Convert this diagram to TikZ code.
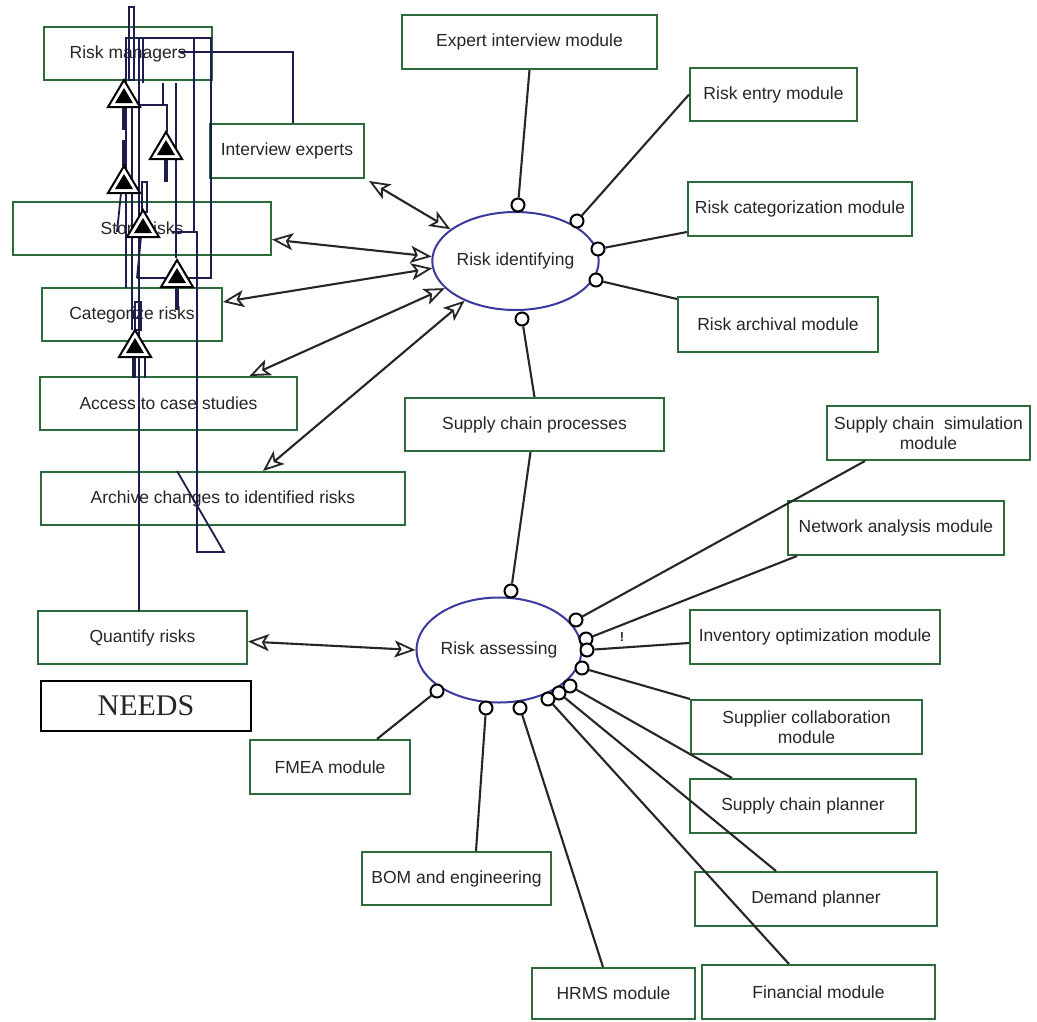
\documentclass[tikz,border=0pt]{standalone}
\usepackage{fontspec}
\setmainfont{Liberation Sans}
\newfontfamily\needsface{Liberation Serif}
\usetikzlibrary{shapes.geometric,arrows.meta}

\definecolor{boxgreen}{HTML}{2E6B3C}
\definecolor{ovalblue}{HTML}{3A3A9E}
\definecolor{inkgray}{HTML}{262626}
\definecolor{wirenavy}{HTML}{1E1E4E}

\tikzset{
  warnsign/.pic={
    \draw[line width=2pt, fill=white] (0,0) -- (16,27) -- (-16,27) -- cycle;
    \fill[black] (0,8) -- (9,23) -- (-9,23) -- cycle;
  }
}

\begin{document}
\begin{tikzpicture}[x=1pt,y=-1pt,
  box/.style={draw=boxgreen, line width=2pt, fill=white, text=inkgray,
    font=\fontsize{17.5}{20}\selectfont, inner sep=0pt, align=center},
  oval/.style={ellipse, draw=ovalblue, line width=2pt, fill=white, text=inkgray,
    font=\fontsize{17.5}{20}\selectfont, inner sep=0pt},
  port/.style={circle, draw=black, line width=2pt, fill=white,
    minimum size=13pt, inner sep=0pt},
  link/.style={line width=2.1pt, draw=inkgray},
  opentip/.tip={Stealth[open,length=21pt,width=17pt,inset=5pt,line width=1.8pt]},
  dual/.style={link, opentip-opentip},
  wire/.style={line width=1.8pt, draw=wirenavy},
  heavywire/.style={line width=3.4pt, draw=wirenavy},
]
\useasboundingbox (0,0) rectangle (1037,1021);
\fill[white] (0,0) rectangle (1037,1021);

% ---------- left column: needs ----------
\node[box, minimum width=168pt, minimum height=53pt] (rmg) at (128,53.5) {Risk managers};
\node[box, minimum width=154pt, minimum height=54pt] (iex) at (287,151) {Interview experts};
\node[box, minimum width=258pt, minimum height=53pt] (str) at (142,228.5) {Store risks};
\node[box, minimum width=180pt, minimum height=53pt] (cat) at (132,314.5) {Categorize risks};
\node[box, minimum width=257pt, minimum height=53pt] (acs) at (168.5,403.5) {Access to case studies};
\node[box, minimum width=364pt, minimum height=53pt] (arc) at (223,498.5) {Archive changes to identified risks};
\node[box, minimum width=209pt, minimum height=53pt] (qnt) at (142.5,637.5) {Quantify risks};
\node[draw=black, line width=1.6pt, minimum width=210pt, minimum height=50pt, inner sep=0pt,
  text=inkgray, font=\needsface\fontsize{30}{32}\selectfont] (nds) at (146,706) {NEEDS};

% ---------- processes ----------
\node[oval, minimum width=155pt, minimum height=98pt] (rid) at (515.5,261) {Risk identifying};
\node[oval, minimum width=158pt, minimum height=105pt] (ras) at (499,650) {Risk assessing};
\node[box, minimum width=259pt, minimum height=53pt] (scp) at (534.5,424.5) {Supply chain processes};

% ---------- modules around risk identifying ----------
\node[box, minimum width=255pt, minimum height=54pt] (eim) at (529.5,42) {Expert interview module};
\node[box, minimum width=167pt, minimum height=53pt] (rem) at (773.5,94.5) {Risk entry module};
\node[box, minimum width=224pt, minimum height=54pt] (rcm) at (800,209) {Risk categorization module};
\node[box, minimum width=200pt, minimum height=55pt] (ram) at (778,324.5) {Risk archival module};

% ---------- modules around risk assessing ----------
\node[box, minimum width=203pt, minimum height=54pt] (ssm) at (928.5,433) {Supply chain\ \ simulation\\module};
\node[box, minimum width=216pt, minimum height=54pt] (nam) at (896,528) {Network analysis module};
\node[box, minimum width=250pt, minimum height=54pt] (iom) at (815,637) {Inventory optimization module};
\node[box, minimum width=231pt, minimum height=54pt] (scm) at (806.5,727) {Supplier collaboration\\module};
\node[box, minimum width=226pt, minimum height=54pt] (spl) at (803,806) {Supply chain planner};
\node[box, minimum width=242pt, minimum height=54pt] (dpl) at (816,899) {Demand planner};
\node[box, minimum width=233pt, minimum height=54pt] (fin) at (818.5,992) {Financial module};
\node[box, minimum width=163pt, minimum height=51pt] (hrm) at (613.5,993.5) {HRMS module};
\node[box, minimum width=189pt, minimum height=53pt] (bom) at (456.5,878.5) {BOM and engineering};
\node[box, minimum width=160pt, minimum height=54pt] (fmea) at (330,767) {FMEA module};

% ---------- ports on risk identifying ----------
\node[port] (i1) at (518,205) {};
\node[port] (i2) at (577,221) {};
\node[port] (i3) at (598,249) {};
\node[port] (i4) at (596,280) {};
\node[port] (i5) at (522,319) {};

% ---------- ports on risk assessing ----------
\node[port] (a1) at (511,591) {};
\node[port] (a2) at (576,620) {};
\node[port] (a3) at (586,639) {};
\node[port] (a4) at (587,650) {};
\node[port] (a5) at (582,668) {};
\node[port] (a6) at (570,686) {};
\node[port] (a7) at (559,693) {};
\node[port] (a8) at (548,699) {};
\node[port] (a9) at (520,708) {};
\node[port] (a10) at (486,708) {};
\node[port] (a11) at (437,691) {};

% ---------- module links ----------
\draw[link] (i1) -- (eim.south);
\draw[link] (i2) -- (rem.west);
\draw[link] (i3) -- ([yshift=5pt]rcm.south west);
\draw[link] (i4) -- ([yshift=-3pt]ram.north west);
\draw[link] (i5) -- (scp.north);
\draw[link] (a1) -- ([xshift=-4pt]scp.south);
\draw[link] (a2) -- ([xshift=39pt]ssm.south west);
\draw[link] (a3) -- ([xshift=10pt]nam.south west);
\draw[link] (a4) -- ([yshift=-6pt]iom.west);
\draw[link] (a5) -- (scm.north west);
\draw[link] (a6) -- ([xshift=43pt]spl.north west);
\draw[link] (a7) -- ([xshift=82pt]dpl.north west);
\draw[link] (a8) -- ([xshift=88pt]fin.north west);
\draw[link] (a9) -- ([xshift=72pt]hrm.north west);
\draw[link] (a10) -- ([xshift=115pt]bom.north west);
\draw[link] (a11) -- ([xshift=128pt]fmea.north west);
\node[text=inkgray, font=\bfseries\fontsize{13}{13}\selectfont, inner sep=0pt] (bang) at (622,637) {!};

% ---------- need links ----------
\draw[dual] ([xshift=4pt,yshift=-2pt]iex.south east) -- (rid.154);
\draw[dual] ([yshift=-11pt]str.east) -- (rid.177);
\draw[dual] ([yshift=12.5pt]cat.east) -- (rid.185);
\draw[dual] ([xshift=81pt]acs.north) -- (rid.201);
\draw[dual] ([xshift=40pt]arc.north) -- (rid.218);
\draw[dual] ([yshift=-4pt]qnt.east) -- (ras.west);

% ---------- stacked signal wiring over the needs column ----------
\coordinate (rmtap) at (180,52);
\draw[wire] (rmtap) -- (293,52) -- ([xshift=6pt]iex.north);
\draw[wire] (126,288) -- (126,38) -- (211,38) -- (211,278) -- (137,278);
\draw[wire] (129,7) rectangle (134,80);
\draw[wire] (143,38) -- (143,83);
\draw[wire] (139,38) -- (139,611);
\draw[wire] (132,107) -- (132,330);
\draw[wire] (194,38) -- (194,232);
\draw[wire] (172,232) -- (197,232) -- (197,552) -- (224,552) -- (177,471);
\draw[wire] (163,83) -- (163,105);
\draw[wire] (137,105) -- (167,105) -- (167,132);
\draw[wire] (176,83) -- (176,258);
\draw[wire] (121,193) -- (117,232);
\draw[wire] (141,237) -- (137,278);
\draw[wire] (142,182) rectangle (147,212);
\draw[wire] (135,302) rectangle (141,330);
\draw[wire] (145,357) -- (145,378);
\draw[heavywire] (124,107) -- (124,130) (124,140) -- (124,166);
\draw[heavywire] (166,160) -- (166,182);
\draw[heavywire] (177,287) -- (177,310);
\draw[heavywire] (134,357) -- (134,378);

\pic at (124,80) {warnsign};
\pic at (166,132) {warnsign};
\pic at (124,166) {warnsign};
\pic at (143,210) {warnsign};
\pic at (177,260) {warnsign};
\pic at (135,330) {warnsign};
\end{tikzpicture}
\end{document}
